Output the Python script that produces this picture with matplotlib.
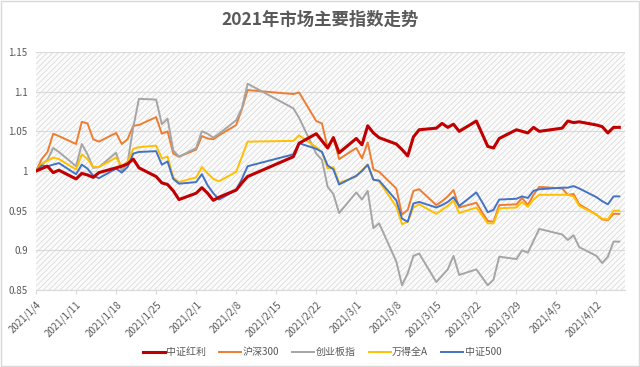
import matplotlib
matplotlib.use("Agg")
import matplotlib.pyplot as plt
from matplotlib.patches import Rectangle
import pandas as pd

plt.rcParams['font.family'] = ['Noto Sans CJK SC', 'DejaVu Sans']
plt.rcParams['hatch.linewidth'] = 0.5
plt.rcParams['hatch.color'] = '#d6d6d6'

# trading days, 2021
dates = pd.to_datetime([
    '2021-01-04', '2021-01-05', '2021-01-06', '2021-01-07', '2021-01-08',
    '2021-01-11', '2021-01-12', '2021-01-13', '2021-01-14', '2021-01-15',
    '2021-01-18', '2021-01-19', '2021-01-20', '2021-01-21', '2021-01-22',
    '2021-01-25', '2021-01-26', '2021-01-27', '2021-01-28', '2021-01-29',
    '2021-02-01', '2021-02-02', '2021-02-03', '2021-02-04', '2021-02-05',
    '2021-02-08', '2021-02-09', '2021-02-10', '2021-02-18', '2021-02-19',
    '2021-02-22', '2021-02-23', '2021-02-24', '2021-02-25', '2021-02-26',
    '2021-03-01', '2021-03-02', '2021-03-03', '2021-03-04', '2021-03-05',
    '2021-03-08', '2021-03-09', '2021-03-10', '2021-03-11', '2021-03-12',
    '2021-03-15', '2021-03-16', '2021-03-17', '2021-03-18', '2021-03-19',
    '2021-03-22', '2021-03-23', '2021-03-24', '2021-03-25', '2021-03-26',
    '2021-03-29', '2021-03-30', '2021-03-31', '2021-04-01', '2021-04-02',
    '2021-04-06', '2021-04-07', '2021-04-08', '2021-04-09',
    '2021-04-12', '2021-04-13', '2021-04-14', '2021-04-15', '2021-04-16',
])

zzhl = [1.000, 1.003, 1.006, 0.998, 1.001, 0.990, 0.997, 0.995, 0.992, 0.998,
        1.004, 1.006, 1.009, 1.015, 1.004, 0.993, 0.985, 0.983, 0.975, 0.964,
        0.972, 0.979, 0.972, 0.963, 0.967, 0.976, 0.985, 0.993, 1.018, 1.035,
        1.047, 1.038, 1.029, 1.042, 1.023,
        1.041, 1.033, 1.057, 1.048, 1.042, 1.034, 1.027, 1.019, 1.043, 1.052,
        1.054, 1.060, 1.055, 1.059, 1.050, 1.063, 1.047, 1.031, 1.029, 1.041,
        1.052, 1.050, 1.048,
        1.055, 1.050, 1.054, 1.063, 1.061, 1.062, 1.058, 1.056, 1.048, 1.055, 1.055]

hs300 = [1.000, 1.015, 1.024, 1.047, 1.044, 1.034, 1.062, 1.060, 1.040, 1.037,
         1.048, 1.034, 1.040, 1.057, 1.058, 1.068, 1.047, 1.050, 1.022, 1.018,
         1.027, 1.044, 1.041, 1.040, 1.045, 1.058, 1.078, 1.102, 1.097, 1.099,
         1.063, 1.060, 1.029, 1.043, 1.015,
         1.029, 1.016, 1.036, 1.002, 0.999, 0.978, 0.945, 0.951, 0.975, 0.977,
         0.957, 0.962, 0.968, 0.976, 0.954, 0.960, 0.948, 0.937, 0.936, 0.957,
         0.958, 0.966, 0.957,
         0.970, 0.980, 0.978, 0.970, 0.971, 0.958, 0.945, 0.939, 0.938, 0.946, 0.946]

cyb = [1.000, 1.008, 1.014, 1.029, 1.024, 1.006, 1.034, 1.021, 1.004, 1.005,
       1.023, 1.000, 1.010, 1.055, 1.091, 1.090, 1.059, 1.066, 1.026, 1.018,
       1.029, 1.050, 1.047, 1.042, 1.047, 1.064, 1.079, 1.110, 1.079, 1.067,
       1.022, 1.014, 0.980, 0.971, 0.947,
       0.973, 0.964, 0.975, 0.928, 0.934, 0.886, 0.856, 0.871, 0.893, 0.896,
       0.860, 0.868, 0.876, 0.893, 0.869, 0.876, 0.866, 0.856, 0.863, 0.892,
       0.889, 0.900, 0.897,
       0.912, 0.927, 0.920, 0.913, 0.919, 0.904, 0.893, 0.884, 0.892, 0.911, 0.911]

wdqa = [1.000, 1.009, 1.013, 1.017, 1.015, 1.002, 1.021, 1.015, 1.005, 1.005,
        1.017, 1.006, 1.012, 1.028, 1.030, 1.032, 1.016, 1.018, 0.992, 0.986,
        0.992, 1.005, 0.997, 0.990, 0.987, 0.999, 1.018, 1.037, 1.038, 1.045,
        1.030, 1.024, 1.003, 1.005, 0.985,
        0.993, 1.001, 1.008, 0.989, 0.987, 0.955, 0.933, 0.936, 0.954, 0.958,
        0.946, 0.951, 0.956, 0.963, 0.947, 0.954, 0.944, 0.934, 0.934, 0.953,
        0.954, 0.961, 0.955,
        0.964, 0.970, 0.970, 0.970, 0.968, 0.956, 0.945, 0.940, 0.939, 0.950, 0.950]

zz500 = [1.000, 1.007, 1.006, 1.008, 1.010, 0.996, 1.008, 1.003, 0.994, 0.991,
         1.003, 0.998, 1.005, 1.022, 1.024, 1.025, 1.008, 1.012, 0.990, 0.984,
         0.986, 0.996, 0.982, 0.972, 0.964, 0.976, 0.990, 1.006, 1.021, 1.035,
         1.028, 1.024, 1.007, 1.002, 0.983,
         0.994, 1.000, 1.008, 0.989, 0.988, 0.963, 0.940, 0.936, 0.959, 0.961,
         0.954, 0.957, 0.961, 0.967, 0.956, 0.973, 0.961, 0.948, 0.951, 0.964,
         0.965, 0.968, 0.966,
         0.975, 0.977, 0.979, 0.979, 0.981, 0.978, 0.967, 0.962, 0.958, 0.968, 0.968]

names = ['中证红利', '沪深300', '创业板指', '万得全A', '中证500']
colors = ['#C00000', '#ED7D31', '#A5A5A5', '#FFC000', '#4472C4']
yticks = [0.85, 0.9, 0.95, 1.0, 1.05, 1.1, 1.15]
ytick_labels = ['0.85', '0.9', '0.95', '1', '1.05', '1.1', '1.15']

fig = plt.figure(figsize=(6.4, 3.67), dpi=100)
fig.patches.append(Rectangle((0.002, 0.003), 0.996, 0.994, transform=fig.transFigure,
                             facecolor='none', edgecolor='#d9d9d9', lw=1))
ax = fig.add_axes([0.0563, 0.2098, 0.9203, 0.6485])
ax.patch.set_visible(False)

# hatched plot background
bg = Rectangle((0, 0), 1, 1, transform=ax.transAxes, facecolor='#fbfbfb',
               edgecolor='#d6d6d6', hatch='//////', lw=0.0, zorder=0)
ax.add_patch(bg)

series = [zzhl, hs300, cyb, wdqa, zz500]
widths = [2.2, 1.4, 1.4, 1.4, 1.4]
order = [6, 2, 3, 4, 5]
for s, n, c, w, z in zip(series, names, colors, widths, order):
    ax.plot(dates, s, color=c, lw=w, label=n, zorder=z)

ax.set_ylim(0.85, 1.15)
ax.set_yticks(yticks)
ax.set_yticklabels(ytick_labels)
ax.grid(axis='y', color='#d9d9d9', lw=0.8)
ax.set_axisbelow(True)

ax.set_xlim(pd.Timestamp('2021-01-04'), pd.Timestamp('2021-04-17'))
xt = pd.date_range('2021-01-04', '2021-04-12', freq='7D')
ax.set_xticks(xt)
ax.set_xticklabels([f'{d.year}/{d.month}/{d.day}' for d in xt], rotation=45,
                   ha='right', rotation_mode='anchor')

for side in ['top', 'right', 'left']:
    ax.spines[side].set_visible(False)
ax.spines['bottom'].set_color('#d9d9d9')
ax.tick_params(axis='x', colors='#d9d9d9', length=3, labelcolor='#595959', labelsize=7)
ax.tick_params(axis='y', length=0, labelcolor='#595959', labelsize=7, pad=6)

fig.text(0.5, 0.945, '2021年市场主要指数走势', ha='center', va='center',
         fontsize=12.5, fontweight='bold', color='#595959')

fig.legend(loc='center', bbox_to_anchor=(0.503, 0.04), ncol=5, frameon=False,
           fontsize=7.2, handlelength=2.2, handletextpad=0.15, columnspacing=1.3,
           labelcolor='#595959')

fig.savefig('out.png', dpi=100)
